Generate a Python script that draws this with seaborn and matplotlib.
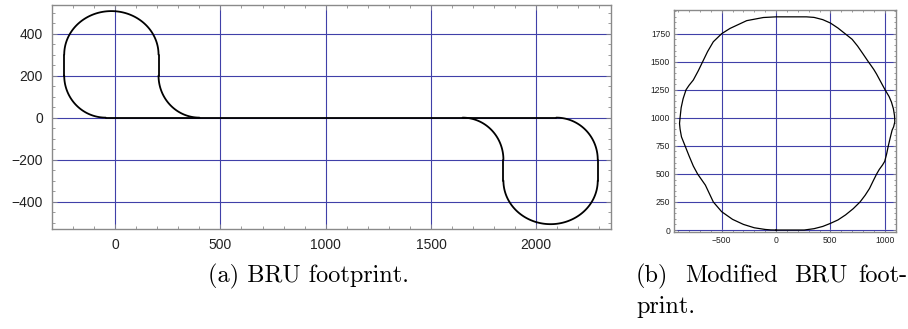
import numpy as np
import pandas as pd
import matplotlib
matplotlib.use("Agg")
import matplotlib.pyplot as plt
import seaborn as sns
from matplotlib.ticker import MultipleLocator

# ---------------- data ----------------
# (a) BRU footprint: straight pieces (x0,y0)->(x1,y1)
line_x0 = [-45, -242, 206, 2292, 1844]
line_y0 = [0, 200, 200, -200, -200]
line_x1 = [2095, -242, 206, 2292, 1844]
line_y1 = [0, 300, 300, -300, -300]
# (a) arc pieces: centre, radii, start/end angle (degrees)
arc_cx = [-45, -18, 400, 2095, 2068, 1650]
arc_cy = [200, 300, 200, -200, -300, -200]
arc_rx = [197, 224, 194, 197, 224, 194]
arc_ry = [200, 207, 200, 200, 207, 200]
arc_t0 = [180, 0, 180, 0, 180, 0]
arc_t1 = [270, 180, 270, 90, 360, 90]

# (b) Modified BRU footprint: outline points (closed)
mod_x = [0, 260, 350, 430, 500, 570, 640, 710, 773, 820, 860, 895, 926, 950,
         980, 1000, 1018, 1033, 1050, 1068, 1082, 1093, 1090, 1080, 1062, 1040,
         1003, 975, 950, 925, 900, 875, 849, 800, 750, 700, 635, 570, 500, 430,
         350, 280,
         0, -117, -270, -423, -500, -577, -630, -675, -715, -761, -800, -828,
         -855, -873, -883, -888, -883, -870, -837, -800, -761, -722, -650, -577,
         -500, -400, -300, -200, -100, -50, 0]
mod_y = [0, 0, 12, 32, 59, 90, 135, 190, 250, 310, 370, 440, 500, 540,
         580, 612, 680, 750, 820, 890, 920, 965, 1020, 1080, 1140, 1190,
         1250, 1300, 1345, 1390, 1430, 1465, 1500, 1570, 1640, 1700, 1750, 1800, 1845, 1875,
         1895, 1900,
         1900, 1894, 1866, 1797, 1750, 1678, 1590, 1500, 1420, 1337, 1290, 1250,
         1170, 1090, 1000, 950, 900, 830, 750, 660, 570, 500, 400, 250,
         163, 95, 50, 20, 5, 1, 0]

a_xticks = [0, 500, 1000, 1500, 2000]
a_yticks = [-400, -200, 0, 200, 400]
b_xticks = [-500, 0, 500, 1000]
b_yticks = [0, 250, 500, 750, 1000, 1250, 1500, 1750]

caption_a = "(a) BRU footprint."
caption_b_words = ["(b)", "Modified", "BRU", "foot-"]
caption_b_line2 = "print."

# ---------------- build drawing tables ----------------
rows = []
seg = 0
for x0, y0, x1, y1 in zip(line_x0, line_y0, line_x1, line_y1):
    rows.append((seg, x0, y0)); rows.append((seg, x1, y1)); seg += 1
for cx, cy, rx, ry, t0, t1 in zip(arc_cx, arc_cy, arc_rx, arc_ry, arc_t0, arc_t1):
    t = np.radians(np.linspace(t0, t1, 80))
    for xx, yy in zip(cx + rx * np.cos(t), cy + ry * np.sin(t)):
        rows.append((seg, xx, yy))
    seg += 1
df_a = pd.DataFrame(rows, columns=["seg", "x", "y"])
df_b = pd.DataFrame({"x": mod_x, "y": mod_y, "seg": 0})

# ---------------- styling ----------------
sns.set_style("white")
plt.rcParams["font.family"] = ["Liberation Sans", "DejaVu Sans"]

W, H = 908, 329
fig = plt.figure(figsize=(W / 100, H / 100), dpi=100)

grid_col = "#4040a8"
frame_col = "#8a8a8a"


def frame(ax, fs, pad, minx, miny, maj_len, min_len):
    for s in ax.spines.values():
        s.set_color(frame_col)
        s.set_linewidth(1.0)
        s.set_visible(True)
    ax.xaxis.set_minor_locator(MultipleLocator(minx))
    ax.yaxis.set_minor_locator(MultipleLocator(miny))
    ax.tick_params(which="both", direction="in", top=True, right=True,
                   bottom=True, left=True, color=frame_col, width=0.6)
    ax.tick_params(which="major", length=maj_len, labelsize=fs, pad=pad,
                   labelcolor="#222222")
    ax.tick_params(which="minor", length=min_len)
    ax.grid(True, which="major", color=grid_col, linewidth=0.8)
    ax.set_axisbelow(True)
    ax.set_xlabel("")
    ax.set_ylabel("")


# (a)
ax1 = fig.add_axes([52 / W, 1 - 229 / H, 559 / W, 224 / H])
sns.lineplot(data=df_a, x="x", y="y", units="seg", estimator=None, sort=False,
             color="black", linewidth=1.3, ax=ax1, legend=False)
ax1.set_xlim(-300, 2355)
ax1.set_ylim(-530, 536)
ax1.set_xticks(a_xticks)
ax1.set_yticks(a_yticks)
frame(ax1, 10, 6.5, 100, 50, 3.5, 2.2)

# (b)
ax2 = fig.add_axes([674.3 / W, 1 - 231.7 / H, 221.4 / W, 221.7 / H])
sns.lineplot(data=df_b, x="x", y="y", units="seg", estimator=None, sort=False,
             color="black", linewidth=0.9, ax=ax2, legend=False)
ax2.set_xlim(-936, 1101)
ax2.set_ylim(-15, 1961)
ax2.set_xticks(b_xticks)
ax2.set_yticks(b_yticks)
frame(ax2, 6.2, 3.0, 100, 50, 2.0, 1.2)

# captions
cap_kw = dict(fontfamily="cmr10", fontsize=17.5, color="black", va="baseline")
fig.text(208 / W, 1 - 282 / H, caption_a, ha="left", **cap_kw)
word_x = [636, 685, 794, 858]
for wx, wd in zip(word_x, caption_b_words):
    fig.text(wx / W, 1 - 282 / H, wd, ha="left", **cap_kw)
fig.text(636 / W, 1 - 313 / H, caption_b_line2, ha="left", **cap_kw)

fig.savefig("out.png", dpi=100)
